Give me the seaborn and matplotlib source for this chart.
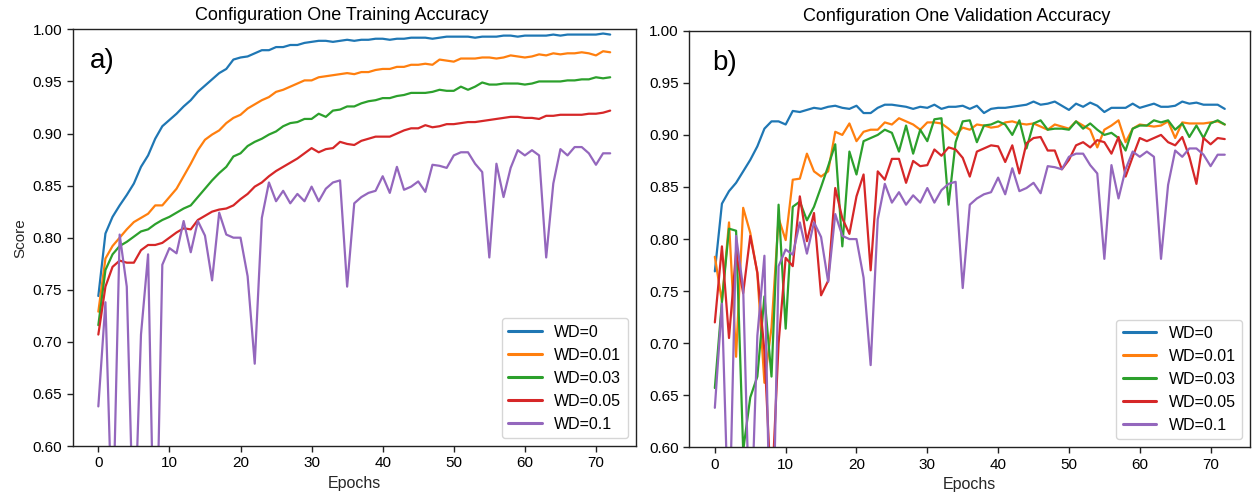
import numpy as np
import pandas as pd
import matplotlib
matplotlib.use("Agg")
import matplotlib.pyplot as plt
import seaborn as sns

epochs = list(range(73))
labels = ["WD=0", "WD=0.01", "WD=0.03", "WD=0.05", "WD=0.1"]

train_wd0 = [0.744, 0.804, 0.820, 0.831, 0.841, 0.852, 0.868, 0.879, 0.895, 0.907,
             0.913, 0.919, 0.926, 0.932, 0.940, 0.946, 0.952, 0.958, 0.962, 0.971,
             0.973, 0.974, 0.977, 0.980, 0.980, 0.983, 0.983, 0.985, 0.985, 0.987,
             0.988, 0.989, 0.989, 0.988, 0.989, 0.990, 0.989, 0.990, 0.990, 0.991,
             0.991, 0.990, 0.991, 0.991, 0.992, 0.992, 0.992, 0.991, 0.992, 0.993,
             0.993, 0.993, 0.993, 0.992, 0.993, 0.993, 0.993, 0.994, 0.994, 0.993,
             0.994, 0.994, 0.994, 0.994, 0.995, 0.994, 0.995, 0.995, 0.995, 0.995,
             0.995, 0.996, 0.995]
train_wd001 = [0.729, 0.780, 0.792, 0.800, 0.808, 0.815, 0.819, 0.823, 0.831, 0.831,
               0.839, 0.847, 0.859, 0.871, 0.884, 0.894, 0.899, 0.903, 0.910, 0.915,
               0.918, 0.924, 0.928, 0.932, 0.935, 0.940, 0.942, 0.945, 0.948, 0.951,
               0.951, 0.954, 0.955, 0.956, 0.957, 0.958, 0.957, 0.959, 0.959, 0.961,
               0.962, 0.962, 0.964, 0.964, 0.966, 0.966, 0.967, 0.966, 0.971, 0.970,
               0.969, 0.972, 0.972, 0.972, 0.973, 0.973, 0.972, 0.973, 0.975, 0.974,
               0.973, 0.974, 0.976, 0.975, 0.977, 0.976, 0.977, 0.977, 0.978, 0.977,
               0.975, 0.979, 0.978]
train_wd003 = [0.716, 0.769, 0.784, 0.792, 0.796, 0.801, 0.806, 0.808, 0.813, 0.817,
               0.820, 0.824, 0.828, 0.831, 0.839, 0.847, 0.855, 0.862, 0.868, 0.878,
               0.881, 0.888, 0.892, 0.895, 0.899, 0.902, 0.907, 0.910, 0.911, 0.914,
               0.914, 0.919, 0.916, 0.922, 0.923, 0.926, 0.926, 0.929, 0.931, 0.932,
               0.934, 0.934, 0.936, 0.937, 0.939, 0.939, 0.939, 0.940, 0.942, 0.941,
               0.941, 0.945, 0.942, 0.945, 0.949, 0.947, 0.947, 0.948, 0.948, 0.948,
               0.947, 0.948, 0.950, 0.950, 0.950, 0.950, 0.951, 0.951, 0.952, 0.952,
               0.954, 0.953, 0.954]
train_wd005 = [0.707, 0.753, 0.772, 0.778, 0.776, 0.776, 0.788, 0.793, 0.793, 0.795,
               0.800, 0.805, 0.809, 0.808, 0.817, 0.821, 0.825, 0.827, 0.828, 0.831,
               0.837, 0.842, 0.849, 0.853, 0.859, 0.864, 0.868, 0.872, 0.876, 0.881,
               0.886, 0.882, 0.885, 0.886, 0.892, 0.890, 0.889, 0.893, 0.895, 0.897,
               0.897, 0.897, 0.900, 0.903, 0.905, 0.905, 0.908, 0.906, 0.907, 0.909,
               0.909, 0.910, 0.911, 0.911, 0.912, 0.913, 0.914, 0.915, 0.916, 0.916,
               0.915, 0.915, 0.914, 0.917, 0.917, 0.918, 0.918, 0.918, 0.918, 0.919,
               0.919, 0.920, 0.922]
train_wd01 = [0.638, 0.738, 0.510, 0.803, 0.753, 0.500, 0.707, 0.784, 0.440, 0.774,
              0.790, 0.785, 0.816, 0.786, 0.816, 0.802, 0.759, 0.824, 0.803, 0.800,
              0.800, 0.763, 0.679, 0.819, 0.853, 0.835, 0.845, 0.833, 0.842, 0.835,
              0.849, 0.835, 0.847, 0.853, 0.855, 0.753, 0.833, 0.839, 0.843, 0.845,
              0.859, 0.843, 0.868, 0.846, 0.849, 0.854, 0.844, 0.870, 0.869, 0.867,
              0.879, 0.882, 0.882, 0.871, 0.863, 0.781, 0.871, 0.839, 0.867, 0.884,
              0.879, 0.884, 0.879, 0.781, 0.852, 0.885, 0.879, 0.887, 0.887, 0.881,
              0.870, 0.881, 0.881]

val_wd0 = [0.769, 0.834, 0.846, 0.854, 0.865, 0.876, 0.889, 0.906, 0.913, 0.913,
           0.910, 0.923, 0.922, 0.924, 0.926, 0.925, 0.927, 0.928, 0.926, 0.925,
           0.928, 0.921, 0.921, 0.926, 0.929, 0.929, 0.928, 0.927, 0.925, 0.927,
           0.926, 0.929, 0.925, 0.927, 0.927, 0.928, 0.925, 0.928, 0.921, 0.925,
           0.926, 0.926, 0.927, 0.928, 0.929, 0.932, 0.929, 0.930, 0.932, 0.928,
           0.924, 0.930, 0.927, 0.931, 0.928, 0.922, 0.926, 0.926, 0.926, 0.930,
           0.926, 0.928, 0.930, 0.927, 0.927, 0.928, 0.932, 0.930, 0.931, 0.929,
           0.929, 0.929, 0.925]
val_wd001 = [0.783, 0.740, 0.816, 0.687, 0.830, 0.806, 0.767, 0.662, 0.715, 0.820,
             0.799, 0.857, 0.858, 0.882, 0.865, 0.860, 0.865, 0.903, 0.900, 0.911,
             0.894, 0.903, 0.905, 0.905, 0.912, 0.910, 0.916, 0.913, 0.910, 0.905,
             0.912, 0.912, 0.911, 0.906, 0.900, 0.907, 0.905, 0.910, 0.909, 0.907,
             0.908, 0.912, 0.913, 0.911, 0.910, 0.911, 0.908, 0.905, 0.910, 0.908,
             0.906, 0.913, 0.909, 0.905, 0.888, 0.905, 0.909, 0.914, 0.893, 0.906,
             0.910, 0.909, 0.908, 0.909, 0.913, 0.897, 0.912, 0.911, 0.911, 0.911,
             0.912, 0.913, 0.910]
val_wd003 = [0.657, 0.740, 0.810, 0.808, 0.597, 0.648, 0.668, 0.745, 0.668, 0.833,
             0.714, 0.831, 0.836, 0.818, 0.831, 0.850, 0.870, 0.891, 0.793, 0.884,
             0.862, 0.894, 0.897, 0.900, 0.905, 0.902, 0.884, 0.909, 0.882, 0.905,
             0.894, 0.915, 0.916, 0.833, 0.893, 0.913, 0.914, 0.893, 0.909, 0.910,
             0.913, 0.910, 0.900, 0.914, 0.887, 0.911, 0.914, 0.905, 0.906, 0.906,
             0.905, 0.913, 0.906, 0.911, 0.905, 0.900, 0.902, 0.897, 0.885, 0.906,
             0.909, 0.909, 0.914, 0.912, 0.914, 0.905, 0.911, 0.898, 0.909, 0.897,
             0.911, 0.914, 0.910]
val_wd005 = [0.720, 0.793, 0.705, 0.788, 0.748, 0.803, 0.768, 0.692, 0.550, 0.700,
             0.782, 0.774, 0.841, 0.798, 0.825, 0.746, 0.760, 0.849, 0.820, 0.805,
             0.841, 0.862, 0.770, 0.865, 0.857, 0.877, 0.877, 0.854, 0.875, 0.870,
             0.871, 0.886, 0.880, 0.888, 0.886, 0.878, 0.860, 0.884, 0.887, 0.890,
             0.889, 0.874, 0.890, 0.863, 0.892, 0.897, 0.898, 0.885, 0.885, 0.867,
             0.876, 0.890, 0.893, 0.888, 0.895, 0.893, 0.882, 0.898, 0.860, 0.879,
             0.897, 0.894, 0.897, 0.900, 0.893, 0.890, 0.898, 0.879, 0.853, 0.897,
             0.891, 0.897, 0.896]
val_wd01 = [0.638, 0.738, 0.510, 0.803, 0.753, 0.500, 0.707, 0.784, 0.440, 0.774,
            0.790, 0.785, 0.816, 0.786, 0.816, 0.802, 0.759, 0.824, 0.803, 0.800,
            0.800, 0.763, 0.679, 0.819, 0.853, 0.835, 0.845, 0.833, 0.842, 0.835,
            0.849, 0.835, 0.847, 0.853, 0.855, 0.753, 0.833, 0.839, 0.843, 0.845,
            0.859, 0.843, 0.868, 0.846, 0.849, 0.854, 0.844, 0.870, 0.869, 0.867,
            0.879, 0.882, 0.882, 0.871, 0.863, 0.781, 0.871, 0.839, 0.867, 0.884,
            0.879, 0.884, 0.879, 0.781, 0.852, 0.885, 0.879, 0.887, 0.887, 0.881,
            0.870, 0.881, 0.881]

y_ticks = [0.60, 0.65, 0.70, 0.75, 0.80, 0.85, 0.90, 0.95, 1.00]
x_ticks = [0, 10, 20, 30, 40, 50, 60, 70]

sns.set_style("ticks")
plt.rcParams['font.family'] = ['Liberation Sans', 'DejaVu Sans']
plt.rcParams['axes.edgecolor'] = '#222222'
plt.rcParams['text.color'] = 'black'
plt.rcParams['xtick.color'] = '#222222'
plt.rcParams['ytick.color'] = '#222222'
plt.rcParams['xtick.labelcolor'] = 'black'
plt.rcParams['ytick.labelcolor'] = 'black'


def long_df(series):
    rows = []
    for lab, vals in zip(labels, series):
        for e, v in zip(epochs, vals):
            rows.append((e, v, lab))
    return pd.DataFrame(rows, columns=["Epochs", "Score", "WD"])


train_df = long_df([train_wd0, train_wd001, train_wd003, train_wd005, train_wd01])
val_df = long_df([val_wd0, val_wd001, val_wd003, val_wd005, val_wd01])

fig = plt.figure(figsize=(12.52, 4.96), dpi=100)
ax1 = fig.add_axes([0.0581, 0.1008, 0.4497, 0.840])
ax2 = fig.add_axes([0.5506, 0.0980, 0.4480, 0.840])

palette = sns.color_palette("tab10", 5)

for ax, df, title, tag, tagx in [
    (ax1, train_df, "Configuration One Training Accuracy", "a)", 0.031),
    (ax2, val_df, "Configuration One Validation Accuracy", "b)", 0.040),
]:
    sns.lineplot(data=df, x="Epochs", y="Score", hue="WD", hue_order=labels,
                 palette=palette, linewidth=1.6, ax=ax, legend=True)
    ax.set_xlim(-3.6, 75.6)
    ax.set_ylim(0.60, 1.00)
    ax.set_yticks(y_ticks)
    ax.set_yticklabels([f"{t:.2f}" for t in y_ticks])
    ax.set_xticks(x_ticks)
    ax.tick_params(labelsize=11, length=4, width=1)
    for s in ax.spines.values():
        s.set_linewidth(1.0)
        s.set_visible(True)
    ax.set_title(title, fontsize=13, x=0.477, pad=7)
    ax.set_xlabel("Epochs", fontsize=11.5)
    ax.text(tagx, 0.955, tag, transform=ax.transAxes, fontsize=20,
            ha="left", va="top")
    leg = ax.legend(loc="lower right", fontsize=11.5, title=None,
                    frameon=True, fancybox=True, handlelength=2.1)
    leg.get_frame().set_edgecolor("#cccccc")
    for h in leg.get_lines():
        h.set_linewidth(2.2)

ax1.set_ylabel("Score", fontsize=11)
ax2.set_ylabel("")

fig.savefig("out.png", dpi=100)
